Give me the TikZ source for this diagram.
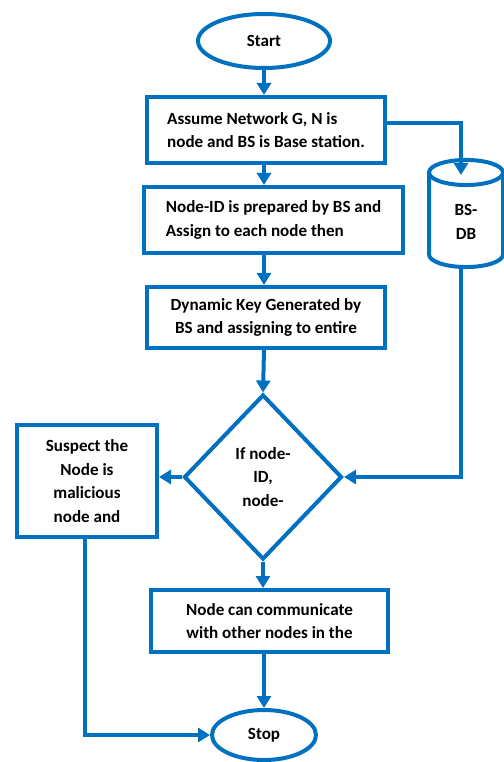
\documentclass[tikz,border=0pt]{standalone}
\usepackage{fontspec}
\setmainfont{Carlito}
\usetikzlibrary{arrows.meta,shapes.geometric}

\definecolor{flowblue}{RGB}{0,112,192}

\begin{document}
\begin{tikzpicture}[x=0.75pt,y=-0.75pt,
  every node/.style={font=\fontsize{12.8}{17.8}\selectfont\bfseries},
  box/.style={draw=flowblue,line width=3pt,fill=white,inner sep=2pt},
  term/.style={ellipse,draw=flowblue,line width=3pt,fill=white},
  arr/.style={draw=flowblue,line width=3pt,-{Triangle[width=10.5pt,length=9pt]}}]

  \useasboundingbox (0,0) rectangle (503,762);

  % terminals
  \node[term,minimum width=99pt,minimum height=40.5pt] (start) at (264,41) {Start};
  \node[term,minimum width=78pt,minimum height=37.5pt] (stop) at (264,735) {Stop};

  % process steps
  \node[box,align=left,minimum width=178.5pt,minimum height=49.5pt] (assume) at (266,130)
    {Assume Network G, N is\\node and BS is Base station.};
  \node[box,align=left,minimum width=194.25pt,minimum height=49.5pt] (prep) at (273.5,220)
    {Node-ID is prepared by BS and\\Assign to each node then};
  \node[box,align=center,minimum width=178.5pt,minimum height=45.75pt] (dyn) at (266,317.5)
    {Dynamic Key Generated by\\BS and assigning to entire};
  \node[box,align=center,minimum width=177.75pt,minimum height=46.5pt] (comm) at (269.5,621)
    {Node can communicate\\with other nodes in the};
  \node[box,align=center,minimum width=105pt,minimum height=84pt] (suspect) at (87,481)
    {Suspect the\\Node is\\malicious\\node and};

  % decision
  \node[diamond,draw=flowblue,line width=3pt,inner sep=0pt,align=center,
    minimum width=118.5pt,minimum height=123.75pt] (check) at (263,477)
    {If node-\\ID,\\node-};

  % base station database (cylinder)
  \coordinate (dbtop) at (466,172.5);
  \coordinate (dbbot) at (466,254.5);
  \draw[flowblue,line width=3pt] (dbtop) ellipse [x radius=27.75pt,y radius=9.4pt];
  \draw[flowblue,line width=3pt] ([xshift=-27.75pt]dbtop) -- ([xshift=-27.75pt]dbbot)
    arc[start angle=180,end angle=360,x radius=27.75pt,y radius=9.4pt]
    -- ([xshift=27.75pt]dbtop);
  \node[align=center] (db) at (466,222) {BS-\\DB};
  \coordinate (dbin) at (461,175);
  \coordinate (dbout) at (461,267);

  % main flow
  \draw[arr] (start.south) -- (start.south |- assume.north);
  \draw[arr] (assume.south -| start) -- (prep.north -| start);
  \draw[arr] (prep.south -| start) -- (dyn.north -| start);
  \draw[arr] (dyn.south -| start) -- (check.north);
  \draw[arr] (check.south) -- (comm.north -| check.south);
  \draw[arr] (comm.south -| stop) -- (stop.north);

  % side branches
  \draw[arr] ([yshift=5pt]assume.east) -| (dbin);
  \draw[arr] (dbout) |- (check.east);
  \draw[arr] (check.west) -- (check.west -| suspect.east);
  \draw[arr] ([xshift=-1.5pt]suspect.south) |- (stop.west);

\end{tikzpicture}
\end{document}
